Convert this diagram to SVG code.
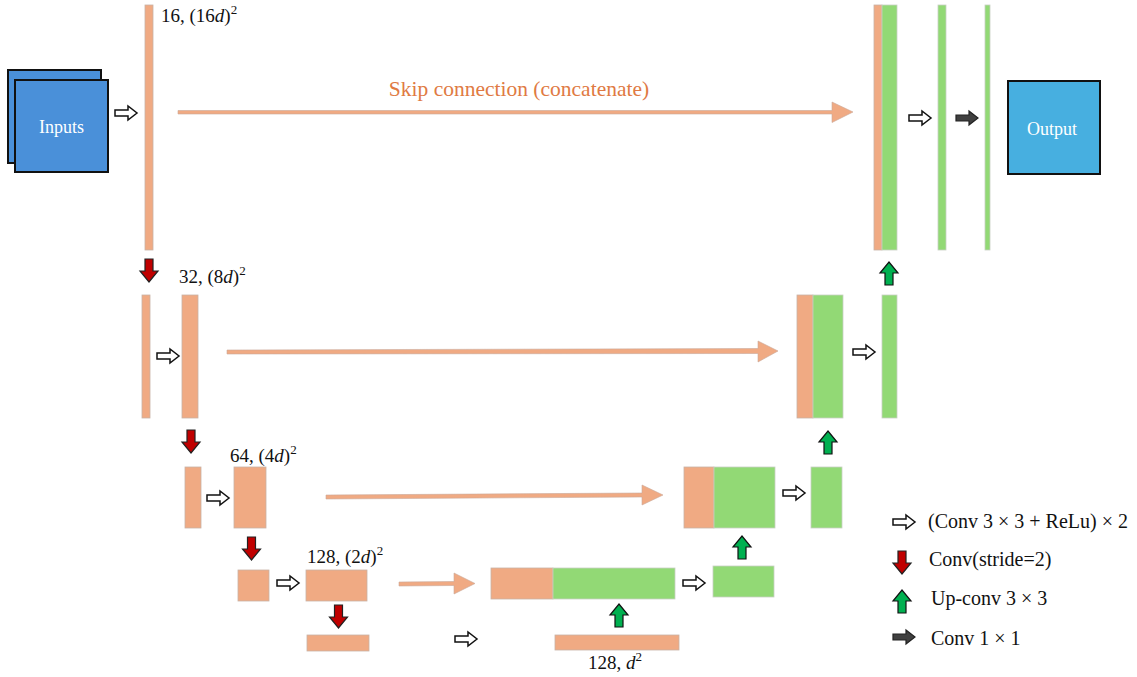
<svg xmlns="http://www.w3.org/2000/svg" width="1137" height="677" viewBox="0 0 1137 677">
<style>
.or{fill:#f0aa83;stroke:#c9b2a6;stroke-width:0.8}
.gr{fill:#92d975;stroke:#c8d0c4;stroke-width:0.8}
.box{stroke:#111;stroke-width:2}
.lbl{font-family:"Liberation Serif","DejaVu Serif",serif;font-size:19px;fill:#111}
.leg{font-family:"Liberation Serif","DejaVu Serif",serif;font-size:20px;fill:#111}
.wt{font-family:"Liberation Serif","DejaVu Serif",serif;font-size:18px;fill:#fff}
.open{fill:#fff;stroke:#111;stroke-width:1.5}
.red{fill:#c00000;stroke:#222;stroke-width:1.2}
.grn{fill:#00b050;stroke:#111;stroke-width:1.2}
.dk{fill:#404040;stroke:#222;stroke-width:1.2}
.skip{fill:#f0aa83;stroke:#c9a898;stroke-width:0.6}
</style>
<defs>
<path id="ra" d="M0,-3 H13 V-7 L22,0 L13,7 V3 H0 Z"/>
<path id="da" d="M-4,0 H4 V12 H9 L0,23 L-9,12 H-4 Z"/>
<path id="ua" d="M-4,23 H4 V11 H9 L0,0 L-9,11 H-4 Z"/>
</defs>

<g id="inputs">
<rect class="box" x="8" y="70" width="93" height="93" fill="#4a90d9"/>
<rect class="box" x="15" y="80" width="93" height="92" fill="#4a90d9"/>
<text class="wt" x="61.5" y="133" text-anchor="middle">Inputs</text>
</g>

<g id="level1">
<rect class="or" x="145" y="5" width="8" height="245"/>
<text class="lbl" x="161" y="22">16, (16<tspan font-style="italic">d</tspan>)<tspan dy="-8" font-size="13">2</tspan></text>
</g>

<g id="level2">
<rect class="or" x="142" y="295" width="8" height="123"/>
<rect class="or" x="182" y="295" width="16" height="123"/>
<text class="lbl" x="179" y="283">32, (8<tspan font-style="italic">d</tspan>)<tspan dy="-8" font-size="13">2</tspan></text>
</g>

<g id="level3">
<rect class="or" x="185" y="467" width="16" height="61"/>
<rect class="or" x="234" y="467" width="32" height="61"/>
<text class="lbl" x="230" y="462">64, (4<tspan font-style="italic">d</tspan>)<tspan dy="-8" font-size="13">2</tspan></text>
</g>

<g id="level4">
<rect class="or" x="238" y="570" width="31" height="31"/>
<rect class="or" x="306" y="570" width="61" height="31"/>
<text class="lbl" x="307" y="563">128, (2<tspan font-style="italic">d</tspan>)<tspan dy="-8" font-size="13">2</tspan></text>
</g>

<g id="bottleneck">
<rect class="or" x="307" y="635" width="62" height="16"/>
<rect class="or" x="555" y="635" width="124" height="15"/>
<text class="lbl" x="588" y="669">128, <tspan font-style="italic">d</tspan><tspan dy="-8" font-size="13">2</tspan></text>
</g>

<g id="up4">
<rect class="or" x="491" y="568" width="62" height="31"/>
<rect class="gr" x="553" y="568" width="122" height="31"/>
<rect class="gr" x="713" y="566" width="61" height="31"/>
</g>

<g id="up3">
<rect class="or" x="684" y="467" width="30" height="61"/>
<rect class="gr" x="714" y="467" width="61" height="61"/>
<rect class="gr" x="811" y="467" width="31" height="61"/>
</g>

<g id="up2">
<rect class="or" x="797" y="295" width="16" height="123"/>
<rect class="gr" x="813" y="295" width="30" height="123"/>
<rect class="gr" x="882" y="295" width="15" height="123"/>
</g>

<g id="up1">
<rect class="or" x="874" y="5" width="8" height="245"/>
<rect class="gr" x="882" y="5" width="15" height="245"/>
<rect class="gr" x="938" y="5" width="8" height="245"/>
<rect class="gr" x="985" y="5" width="5" height="245"/>
</g>

<g id="output">
<rect class="box" x="1008" y="81" width="92" height="93" fill="#47afe0"/>
<text class="wt" x="1052" y="135" text-anchor="middle">Output</text>
</g>

<g id="connectors">
<path class="skip" d="M178,110.5 H832 V102 L853,112 L832,122.5 V114 H178 Z"/>
<text x="519" y="96" text-anchor="middle" font-family="Liberation Serif, DejaVu Serif, serif" font-size="21.5" fill="#e07a43">Skip connection (concatenate)</text>
<path class="skip" d="M227,350 L758,348.5 V341 L778,351 L758,362 V353.5 L227,354 Z"/>
<path class="skip" d="M326,495 L642,493 V485 L663,495 L642,505 V497 L326,499 Z"/>
<path class="skip" d="M399,582 L454,581.5 V573 L475,583.5 L454,594 V585.5 L399,586 Z"/>

<use href="#ra" class="open" x="115" y="113"/>
<use href="#ra" class="open" x="157" y="356"/>
<use href="#ra" class="open" x="207" y="498"/>
<use href="#ra" class="open" x="277" y="583"/>
<use href="#ra" class="open" x="455" y="639"/>
<use href="#ra" class="open" x="683" y="583"/>
<use href="#ra" class="open" x="783" y="493"/>
<use href="#ra" class="open" x="853" y="352"/>
<use href="#ra" class="open" x="909" y="118"/>
<use href="#ra" class="dk" x="956" y="118"/>

<use href="#da" class="red" x="149" y="259"/>
<use href="#da" class="red" x="191" y="430"/>
<use href="#da" class="red" x="251.5" y="537"/>
<use href="#da" class="red" x="338.5" y="605"/>

<use href="#ua" class="grn" x="619" y="604"/>
<use href="#ua" class="grn" x="742" y="536"/>
<use href="#ua" class="grn" x="828" y="431"/>
<use href="#ua" class="grn" x="889" y="262"/>
</g>

<g id="legend">
<use href="#ra" class="open" x="893" y="522"/>
<text class="leg" x="928" y="528">(Conv 3 × 3 + ReLu) × 2</text>
<use href="#da" class="red" x="902" y="551"/>
<text class="leg" x="929" y="566">Conv(stride=2)</text>
<use href="#ua" class="grn" x="902" y="590"/>
<text class="leg" x="931" y="605">Up-conv 3 × 3</text>
<use href="#ra" class="dk" x="893" y="637"/>
<text class="leg" x="931" y="645">Conv 1 × 1</text>
</g>
</svg>
